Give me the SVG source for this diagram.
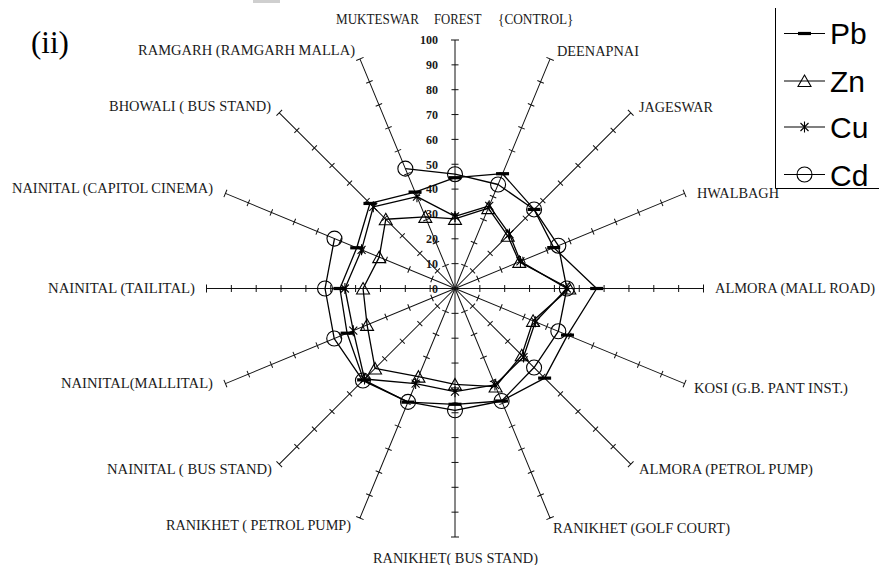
<svg xmlns="http://www.w3.org/2000/svg" xmlns:xlink="http://www.w3.org/1999/xlink" width="879" height="565" viewBox="0 0 879 565">
<style>
.lbl{font-family:"Liberation Serif","Times New Roman",serif;font-size:14px;fill:#1a1a1a}
.val{font-family:"Liberation Serif","Times New Roman",serif;font-size:12px;font-weight:bold;fill:#1a1a1a;text-anchor:end}
.leg{font-family:"Liberation Sans",Arial,sans-serif;font-size:30px;fill:#000}
.ser{fill:none;stroke:#000;stroke-width:1.3;stroke-linejoin:round}
.axis{fill:none;stroke:#111;stroke-width:1}
</style>
<defs>
<g id="ax"><path class="axis" d="M455 288.5V40M451.5 263.65h7M451.5 238.8h7M451.5 213.95h7M451.5 189.1h7M451.5 164.25h7M451.5 139.4h7M451.5 114.55h7M451.5 89.7h7M451.5 64.85h7M451 40h8"/></g>
<rect id="mPb" x="-6.5" y="-1.6" width="13" height="3.2" fill="#000"/>
<polygon id="mZn" points="0,-6 6.5,5.5 -6.5,5.5" fill="none" stroke="#000" stroke-width="1.1"/>
<path id="mCu" d="M-4 -4L4 4M-4 4L4 -4M0 -5.5V5.5" fill="none" stroke="#000" stroke-width="1.1"/>
<circle id="mCd" r="7.5" fill="none" stroke="#000" stroke-width="1.1"/>
</defs>
<rect width="879" height="565" fill="#fff"/>
<rect x="253" y="0" width="27" height="3" fill="#cfcfcf"/>
<text x="31" y="53" style="font-family:'Liberation Serif','Times New Roman',serif;font-size:31px;fill:#000">(ii)</text>
<g id="axes">
<use xlink:href="#ax"/>
<use xlink:href="#ax" transform="rotate(22.5 455 288.5)"/>
<use xlink:href="#ax" transform="rotate(45 455 288.5)"/>
<use xlink:href="#ax" transform="rotate(67.5 455 288.5)"/>
<use xlink:href="#ax" transform="rotate(90 455 288.5)"/>
<use xlink:href="#ax" transform="rotate(112.5 455 288.5)"/>
<use xlink:href="#ax" transform="rotate(135 455 288.5)"/>
<use xlink:href="#ax" transform="rotate(157.5 455 288.5)"/>
<use xlink:href="#ax" transform="rotate(180 455 288.5)"/>
<use xlink:href="#ax" transform="rotate(202.5 455 288.5)"/>
<use xlink:href="#ax" transform="rotate(225 455 288.5)"/>
<use xlink:href="#ax" transform="rotate(247.5 455 288.5)"/>
<use xlink:href="#ax" transform="rotate(270 455 288.5)"/>
<use xlink:href="#ax" transform="rotate(292.5 455 288.5)"/>
<use xlink:href="#ax" transform="rotate(315 455 288.5)"/>
<use xlink:href="#ax" transform="rotate(337.5 455 288.5)"/>
</g>
<g id="scale">
<text class="val" x="438" y="292.7">0</text>
<text class="val" x="438" y="267.9">10</text>
<text class="val" x="438" y="243">20</text>
<text class="val" x="438" y="218.2">30</text>
<text class="val" x="438" y="193.3">40</text>
<text class="val" x="438" y="168.5">50</text>
<text class="val" x="438" y="143.6">60</text>
<text class="val" x="438" y="118.8">70</text>
<text class="val" x="438" y="93.9">80</text>
<text class="val" x="438" y="69.1">90</text>
<text class="val" x="438" y="44.2">100</text>
</g>
<g id="labels">
<text class="lbl" x="336" y="23.5" textLength="83" lengthAdjust="spacingAndGlyphs">MUKTESWAR</text>
<text class="lbl" x="434" y="23.5" textLength="47.5" lengthAdjust="spacingAndGlyphs">FOREST</text>
<text class="lbl" x="498" y="23.5" textLength="75.5" lengthAdjust="spacingAndGlyphs">{CONTROL}</text>
<text class="lbl" x="557" y="56" textLength="82" lengthAdjust="spacingAndGlyphs">DEENAPNAI</text>
<text class="lbl" x="639" y="111.5" textLength="74" lengthAdjust="spacingAndGlyphs">JAGESWAR</text>
<text class="lbl" x="697" y="197.5" textLength="82" lengthAdjust="spacingAndGlyphs">HWALBAGH</text>
<text class="lbl" x="715" y="293" textLength="160" lengthAdjust="spacingAndGlyphs">ALMORA (MALL ROAD)</text>
<text class="lbl" x="694" y="393" textLength="154" lengthAdjust="spacingAndGlyphs">KOSI (G.B. PANT INST.)</text>
<text class="lbl" x="639" y="474" textLength="174" lengthAdjust="spacingAndGlyphs">ALMORA (PETROL PUMP)</text>
<text class="lbl" x="553" y="532.5" textLength="177" lengthAdjust="spacingAndGlyphs">RANIKHET (GOLF COURT)</text>
<text class="lbl" x="373" y="562.5" textLength="165" lengthAdjust="spacingAndGlyphs">RANIKHET( BUS STAND)</text>
<text class="lbl" x="166" y="530" textLength="185" lengthAdjust="spacingAndGlyphs">RANIKHET ( PETROL PUMP)</text>
<text class="lbl" x="107" y="474" textLength="165" lengthAdjust="spacingAndGlyphs">NAINITAL ( BUS STAND)</text>
<text class="lbl" x="61" y="388" textLength="152" lengthAdjust="spacingAndGlyphs">NAINITAL(MALLITAL)</text>
<text class="lbl" x="48" y="293" textLength="147" lengthAdjust="spacingAndGlyphs">NAINITAL (TAILITAL)</text>
<text class="lbl" x="12" y="193" textLength="201" lengthAdjust="spacingAndGlyphs">NAINITAL (CAPITOL CINEMA)</text>
<text class="lbl" x="109" y="111" textLength="162" lengthAdjust="spacingAndGlyphs">BHOWALI ( BUS STAND)</text>
<text class="lbl" x="138" y="54.5" textLength="217" lengthAdjust="spacingAndGlyphs">RAMGARH (RAMGARH MALLA)</text>
</g>
<g id="series-Pb">
<path class="ser" d="M455 177.7L502.55 173.71L534.07 209.43L553.72 247.61L596.65 288.5L567.5 335.1L544.62 378.12L501.6 401L455 404.3L407.93 402.15L363.63 379.87L347.09 333.2L339.94 288.5L356.74 247.8L369.95 203.45L415.06 192.07Z"/>
<use xlink:href="#mPb" x="455" y="177.7"/><use xlink:href="#mPb" x="502.55" y="173.71"/><use xlink:href="#mPb" x="534.07" y="209.43"/><use xlink:href="#mPb" x="553.72" y="247.61"/><use xlink:href="#mPb" x="596.65" y="288.5"/><use xlink:href="#mPb" x="567.5" y="335.1"/><use xlink:href="#mPb" x="544.62" y="378.12"/><use xlink:href="#mPb" x="501.6" y="401"/><use xlink:href="#mPb" x="455" y="404.3"/><use xlink:href="#mPb" x="407.93" y="402.15"/><use xlink:href="#mPb" x="363.63" y="379.87"/><use xlink:href="#mPb" x="347.09" y="333.2"/><use xlink:href="#mPb" x="339.94" y="288.5"/><use xlink:href="#mPb" x="356.74" y="247.8"/><use xlink:href="#mPb" x="369.95" y="203.45"/><use xlink:href="#mPb" x="415.06" y="192.07"/>
</g>
<g id="series-Zn">
<path class="ser" d="M455 218.92L488.29 208.14L507.72 235.78L519.28 261.87L569.31 288.5L533.06 320.83L521.77 355.27L495.61 386.53L455 384.42L418.48 376.66L375.05 368.45L367.07 324.92L363.05 288.5L379.23 257.12L385.77 219.27L425.33 216.87Z"/>
<use xlink:href="#mZn" x="455" y="218.92"/><use xlink:href="#mZn" x="488.29" y="208.14"/><use xlink:href="#mZn" x="507.72" y="235.78"/><use xlink:href="#mZn" x="519.28" y="261.87"/><use xlink:href="#mZn" x="569.31" y="288.5"/><use xlink:href="#mZn" x="533.06" y="320.83"/><use xlink:href="#mZn" x="521.77" y="355.27"/><use xlink:href="#mZn" x="495.61" y="386.53"/><use xlink:href="#mZn" x="455" y="384.42"/><use xlink:href="#mZn" x="418.48" y="376.66"/><use xlink:href="#mZn" x="375.05" y="368.45"/><use xlink:href="#mZn" x="367.07" y="324.92"/><use xlink:href="#mZn" x="363.05" y="288.5"/><use xlink:href="#mZn" x="379.23" y="257.12"/><use xlink:href="#mZn" x="385.77" y="219.27"/><use xlink:href="#mZn" x="425.33" y="216.87"/>
</g>
<g id="series-Cu">
<path class="ser" d="M455 216.43L489.23 205.85L509.47 234.03L520.43 261.4L566.83 288.5L535.36 321.79L523.53 357.03L494.94 384.93L455 391.63L415.63 383.55L364.51 378.99L353.29 330.63L344.91 288.5L361.56 249.8L373.29 206.79L416.96 196.67Z"/>
<use xlink:href="#mCu" x="455" y="216.43"/><use xlink:href="#mCu" x="489.23" y="205.85"/><use xlink:href="#mCu" x="509.47" y="234.03"/><use xlink:href="#mCu" x="520.43" y="261.4"/><use xlink:href="#mCu" x="566.83" y="288.5"/><use xlink:href="#mCu" x="535.36" y="321.79"/><use xlink:href="#mCu" x="523.53" y="357.03"/><use xlink:href="#mCu" x="494.94" y="384.93"/><use xlink:href="#mCu" x="455" y="391.63"/><use xlink:href="#mCu" x="415.63" y="383.55"/><use xlink:href="#mCu" x="364.51" y="378.99"/><use xlink:href="#mCu" x="353.29" y="330.63"/><use xlink:href="#mCu" x="344.91" y="288.5"/><use xlink:href="#mCu" x="361.56" y="249.8"/><use xlink:href="#mCu" x="373.29" y="206.79"/><use xlink:href="#mCu" x="416.96" y="196.67"/>
</g>
<g id="series-Cd">
<path class="ser" d="M405.36 168.65L455 174.19L498.08 184.5L534.07 209.43L558.32 245.71L566.83 288.5L558.32 331.29L534.07 367.57L501.6 401L455 410.27L408.02 401.92L362.93 380.57L334.24 338.52L325.03 288.5L334.47 238.58"/>
<use xlink:href="#mCd" x="455" y="174.19"/><use xlink:href="#mCd" x="498.08" y="184.5"/><use xlink:href="#mCd" x="534.07" y="209.43"/><use xlink:href="#mCd" x="558.32" y="245.71"/><use xlink:href="#mCd" x="566.83" y="288.5"/><use xlink:href="#mCd" x="558.32" y="331.29"/><use xlink:href="#mCd" x="534.07" y="367.57"/><use xlink:href="#mCd" x="501.6" y="401"/><use xlink:href="#mCd" x="455" y="410.27"/><use xlink:href="#mCd" x="408.02" y="401.92"/><use xlink:href="#mCd" x="362.93" y="380.57"/><use xlink:href="#mCd" x="334.24" y="338.52"/><use xlink:href="#mCd" x="325.03" y="288.5"/><use xlink:href="#mCd" x="334.47" y="238.58"/><use xlink:href="#mCd" x="405.36" y="168.65"/>
</g>
<g id="legend">
<path d="M775.5 8V188.5H879" fill="none" stroke="#000" stroke-width="1"/>
<path d="M784 33.5H825M784 81H825M784 127H825M784 174.5H825" stroke="#000" stroke-width="1.1"/>
<use xlink:href="#mPb" x="804.5" y="33.5"/>
<use xlink:href="#mZn" x="804.5" y="81"/>
<use xlink:href="#mCu" x="804.5" y="127"/>
<use xlink:href="#mCd" x="804.5" y="174.5"/>
<text class="leg" x="830" y="44">Pb</text>
<text class="leg" x="830" y="92">Zn</text>
<text class="leg" x="830" y="138">Cu</text>
<text class="leg" x="830" y="185.5">Cd</text>
</g>
</svg>
